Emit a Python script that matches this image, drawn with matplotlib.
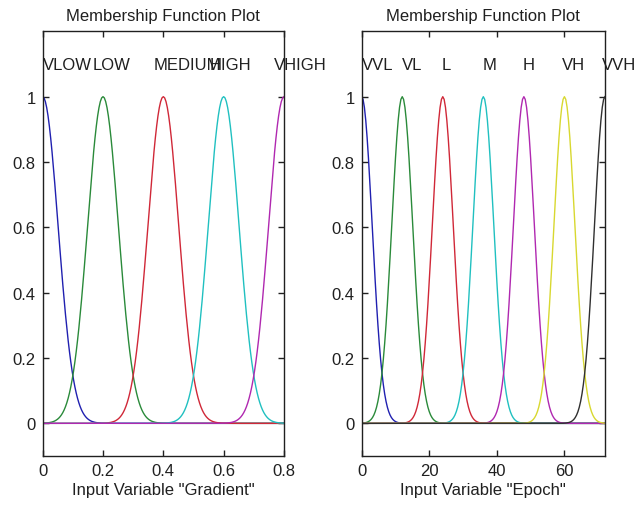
import matplotlib.pyplot as plt
import numpy as np

plt.rcParams["font.family"] = ["Liberation Sans", "DejaVu Sans"]

# input "Gradient": gaussian membership functions (center, sigma)
grad_names = ["VLOW", "LOW", "MEDIUM", "HIGH", "VHIGH"]
grad_centers = [0.0, 0.2, 0.4, 0.6, 0.8]
grad_sigma = 0.051
grad_label_x = [0.081, 0.230, 0.480, 0.624, 0.853]
grad_range = [0, 0.8]
grad_ticks = [0, 0.2, 0.4, 0.6, 0.8]

# input "Epoch"
epoch_names = ["VVL", "VL", "L", "M", "H", "VH", "VVH"]
epoch_centers = [0, 12, 24, 36, 48, 60, 72]
epoch_sigma = 3.1
epoch_label_x = [4.8, 14.9, 25.1, 37.7, 49.5, 62.7, 76.1]
epoch_range = [0, 72]
epoch_ticks = [0, 20, 40, 60]

y_ticks = [0, 0.2, 0.4, 0.6, 0.8, 1]

# matlab-ish line colours
colors = ["#2020b0", "#2a8a3a", "#d02838", "#20c0c0", "#b028b0", "#d8d830", "#303030"]


def gaussmf(x, c, s):
    return np.exp(-(x - c) ** 2 / (2 * s ** 2))


fig = plt.figure(figsize=(6.36, 5.06), dpi=100)
ax1 = fig.add_axes([0.0671, 0.0968, 0.3794, 0.8393])
ax2 = fig.add_axes([0.5687, 0.0968, 0.3825, 0.8393])

panels = [
    (ax1, grad_names, grad_centers, grad_sigma, grad_label_x, grad_range, grad_ticks, 'Input Variable "Gradient"'),
    (ax2, epoch_names, epoch_centers, epoch_sigma, epoch_label_x, epoch_range, epoch_ticks, 'Input Variable "Epoch"'),
]

for ax, names, centers, sigma, lab_x, xr, xt, xlabel in panels:
    x = np.linspace(xr[0], xr[1], 181)
    for k, c in enumerate(centers):
        ax.plot(x, gaussmf(x, c, sigma), color=colors[k], linewidth=1.0)
        ax.text(lab_x[k], 1.1, names[k], ha="center", va="center", fontsize=12,
                color="#202020", clip_on=False)

    ax.set_xlim(xr)
    ax.set_ylim(-0.1, 1.2)
    ax.set_xticks(xt)
    ax.set_xticklabels([f"{v:g}" for v in xt])
    ax.set_yticks(y_ticks)
    ax.set_yticklabels([f"{v:g}" for v in y_ticks])
    ax.tick_params(direction="in", length=4, width=1, top=True, right=True,
                   labelsize=12, colors="#202020", pad=5)
    for sp in ax.spines.values():
        sp.set_linewidth(1.0)
        sp.set_color("#202020")
    ax.set_title("Membership Function Plot", fontsize=12, pad=8, color="#202020")
    ax.set_xlabel(xlabel, fontsize=12, labelpad=3, color="#202020")

fig.savefig("out.png", dpi=100, facecolor="white")
